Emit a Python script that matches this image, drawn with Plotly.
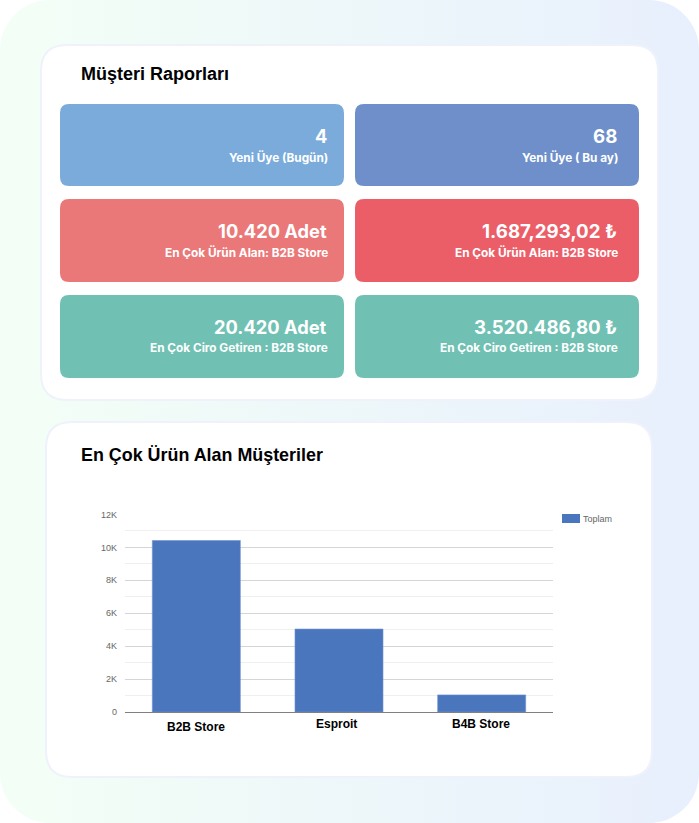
import base64
import plotly.graph_objects as go

W, H = 699, 823

# Data
categories = ["B2B Store", "Esproit", "B4B Store"]
totals = [10420, 5040, 1040]
series_name = "Toplam"
y_ticks = [0, 2000, 4000, 6000, 8000, 10000, 12000]
y_tick_labels = ["0", "2K", "4K", "6K", "8K", "10K", "12K"]
report_title = "Müşteri Raporları"
chart_title = "En Çok Ürün Alan Müşteriler"
tile_values = ["4", "68", "10.420 Adet", "1.687,293,02 ₺", "20.420 Adet", "3.520.486,80 ₺"]
tile_labels = ["Yeni Üye (Bugün)", "Yeni Üye ( Bu ay)", "En Çok Ürün Alan: B2B Store",
               "En Çok Ürün Alan: B2B Store", "En Çok Ciro Getiren : B2B Store",
               "En Çok Ciro Getiren : B2B Store"]
tile_colors = ["#7AABDB", "#6E8FCA", "#EA7878", "#EB5E68", "#70C1B3", "#70C1B3"]
tile_x = [(60, 344), (355, 639)]
tile_y = [(104, 186), (199, 282), (295, 378)]
text_right = [328, 618]
value_size = [18.3, 18.7]


def px(x):
    return x / W


def py(y):
    return 1 - y / H


def rounded(x0, y0, x1, y1, r):
    p = [
        (x0 + r, y0), (x1 - r, y0), (x1, y0), (x1, y0 + r), (x1, y1 - r), (x1, y1),
        (x1 - r, y1), (x0 + r, y1), (x0, y1), (x0, y1 - r), (x0, y0 + r), (x0, y0), (x0 + r, y0),
    ]
    f = [f"{px(a):.5f},{py(b):.5f}" for a, b in p]
    return (f"M{f[0]} L{f[1]} Q{f[2]} {f[3]} L{f[4]} Q{f[5]} {f[6]} L{f[7]} "
            f"Q{f[8]} {f[9]} L{f[10]} Q{f[11]} {f[12]} Z")


def card(x0, y0, x1, y1, r, fill, line=None, lw=0):
    return dict(type="path", xref="paper", yref="paper", layer="below",
                path=rounded(x0, y0, x1, y1, r), fillcolor=fill,
                line=dict(color=line or fill, width=lw))


svg = f'''<svg xmlns="http://www.w3.org/2000/svg" width="{W}" height="{H}" viewBox="0 0 {W} {H}">
<defs><linearGradient id="g" x1="0" x2="1" y1="0" y2="0">
<stop offset="0" stop-color="#F3FFF6"/><stop offset="1" stop-color="#E8EFFD"/></linearGradient></defs>
<rect x="0" y="0" width="{W}" height="{H}" rx="50" ry="50" fill="url(#g)"/></svg>'''
bg = "data:image/svg+xml;base64," + base64.b64encode(svg.encode()).decode()

shapes = [
    card(41, 45, 658, 400, 26, "#FFFFFF", "#EFF2FB", 2),
    card(46, 422, 652, 777, 26, "#FFFFFF", "#EFF2FB", 2),
]
FONT = "Liberation Sans"
TILE_FONT = "Inter"
annotations = []


def text(x, y, s, size, color="#FFFFFF", anchor="left", family=FONT, bold=True):
    body = f"<b>{s}</b>" if bold else s
    annotations.append(dict(x=px(x), y=py(y), xref="paper", yref="paper", text=body,
                            showarrow=False, xanchor=anchor, yanchor="middle", borderpad=0,
                            font=dict(family=family, size=size, color=color)))


text(80, 74, report_title, 18, "#000000")
text(80, 455, chart_title, 17.9, "#000000")
for i, (val, lab, col) in enumerate(zip(tile_values, tile_labels, tile_colors)):
    x0, x1 = tile_x[i % 2]
    y0, y1 = tile_y[i // 2]
    shapes.append(card(x0, y0, x1, y1, 9, col))
    text(text_right[i % 2], y0 + 32, val, value_size[i % 2], anchor="right", family=TILE_FONT)
    text(text_right[i % 2] + 1, y0 + 53, lab, 11.8, anchor="right", family=TILE_FONT)

label_shift = [-15, -12, -12]
label_xshift = [0, -3, -1]
for cat, shift, xs in zip(categories, label_shift, label_xshift):
    annotations.append(dict(x=cat, y=0, xref="x", yref="y", text=f"<b>{cat}</b>", showarrow=False,
                            xanchor="center", yanchor="middle", yshift=shift, xshift=xs,
                            font=dict(family=FONT, size=12, color="#000000")))

# legend key
shapes.append(dict(type="rect", xref="paper", yref="paper", layer="below",
                   x0=px(562), x1=px(580), y0=py(514), y1=py(523),
                   fillcolor="#4A76BD", line=dict(width=0)))
text(582, 518.5, series_name, 9, "#666666", bold=False)

fig = go.Figure(go.Bar(
    x=categories, y=totals, name=series_name, width=0.617, showlegend=False,
    marker=dict(color="#4A76BD", line=dict(color="#6E92CE", width=0.6)),
    hoverinfo="skip",
))
fig.update_layout(
    template="none",
    width=W, height=H, autosize=False, margin=dict(l=0, r=0, t=0, b=0, pad=0),
    paper_bgcolor="rgba(0,0,0,0)", plot_bgcolor="rgba(0,0,0,0)",
    font=dict(family=FONT), bargap=0.383,
    images=[dict(source=bg, xref="paper", yref="paper", x=0, y=1, sizex=1, sizey=1,
                 xanchor="left", yanchor="top", sizing="stretch", layer="below")],
    shapes=shapes, annotations=annotations,
    xaxis=dict(domain=[px(125), px(553)], type="category", showgrid=False, showticklabels=False,
               ticks="", showline=False, zeroline=False, fixedrange=True, automargin=False),
    yaxis=dict(domain=[py(712), py(514.5)], range=[0, 12000], tickmode="array", tickvals=y_ticks,
               ticktext=y_tick_labels, tickfont=dict(family=FONT, size=9, color="#666666"),
               ticks="", ticklabelstandoff=7, gridcolor="#D5D5D5", gridwidth=1,
               minor=dict(dtick=1000, showgrid=True, gridcolor="#EFEFEF", gridwidth=1, ticks=""),
               zeroline=True, zerolinecolor="#808080", zerolinewidth=1, showline=False,
               fixedrange=True, automargin=False),
    showlegend=False,
)
fig.write_html("out.html", config=dict(displayModeBar=False),
               post_script="document.body.style.margin='0';document.body.style.overflow='hidden';")
